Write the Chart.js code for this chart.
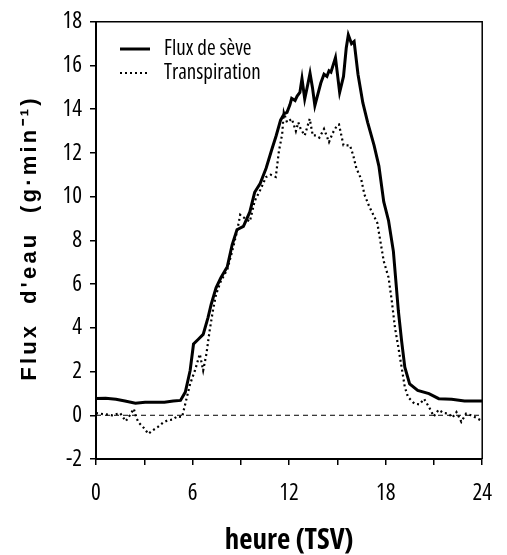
<!DOCTYPE html>
<html>
<head>
<meta charset="utf-8">
<script src="https://cdn.jsdelivr.net/npm/chart.js@4"></script>
<style>
  html, body { margin: 0; padding: 0; background: #fff; }
  #wrap { width: 507px; height: 555px; position: relative; }
</style>
</head>
<body>
<div id="wrap"><canvas id="c" width="507" height="555"></canvas></div>
<script>
// ---- data ----
const seriesLabels = ["Flux de sève", "Transpiration"];
const xTitle = "heure (TSV)";
const yTitle = "Flux  d'eau  (g·min⁻¹)";
const xTickValues = [0, 6, 12, 18, 24];
const yTickValues = [-2, 0, 2, 4, 6, 8, 10, 12, 14, 16, 18];

const sapHours = [0.0, 0.6, 1.24, 1.8, 2.45, 3.05, 3.6, 4.25, 4.8, 5.25, 5.55, 5.85, 6.06, 6.36, 6.66, 6.96, 7.16, 7.46, 7.76, 8.16, 8.46, 8.76, 9.16, 9.56, 9.86, 10.2, 10.57, 10.9, 11.2, 11.47, 11.7, 11.87, 12.05, 12.16, 12.37, 12.5, 12.67, 12.8, 12.97, 13.15, 13.3, 13.45, 13.6, 13.97, 14.17, 14.35, 14.48, 14.6, 14.88, 15.14, 15.38, 15.55, 15.68, 15.88, 16.04, 16.28, 16.58, 16.88, 17.28, 17.58, 17.88, 18.18, 18.48, 18.79, 18.99, 19.19, 19.49, 19.99, 20.69, 21.3, 22.1, 22.9, 23.9, 24.0];
const sapFlow = [0.77, 0.78, 0.73, 0.65, 0.55, 0.6, 0.6, 0.6, 0.65, 0.68, 1.06, 2.05, 3.26, 3.48, 3.7, 4.47, 5.08, 5.83, 6.29, 6.8, 7.8, 8.49, 8.64, 9.3, 10.2, 10.6, 11.3, 12.1, 12.8, 13.5, 13.8, 13.86, 14.2, 14.5, 14.4, 14.6, 14.77, 15.4, 14.47, 15.1, 15.65, 15.0, 14.17, 15.2, 15.6, 15.5, 15.76, 15.7, 16.36, 14.77, 15.5, 16.8, 17.4, 17.0, 17.1, 15.6, 14.3, 13.4, 12.35, 11.4, 9.77, 8.9, 7.5, 4.77, 3.4, 2.2, 1.44, 1.14, 0.99, 0.76, 0.73, 0.65, 0.65, 0.65];

const trHours = [0.0, 0.5, 1.0, 1.5, 1.85, 2.1, 2.35, 2.5, 2.65, 3.0, 3.25, 3.5, 3.85, 4.15, 4.45, 4.75, 5.05, 5.35, 5.55, 5.85, 6.15, 6.45, 6.66, 6.86, 7.06, 7.26, 7.46, 7.76, 8.16, 8.46, 8.76, 8.96, 9.26, 9.56, 9.86, 10.2, 10.57, 10.85, 11.17, 11.37, 11.57, 11.67, 11.87, 12.17, 12.42, 12.57, 12.72, 12.97, 13.28, 13.47, 13.67, 13.88, 14.17, 14.48, 14.7, 14.98, 15.1, 15.38, 15.78, 15.98, 16.18, 16.48, 16.68, 16.98, 17.48, 17.88, 18.18, 18.38, 18.58, 18.79, 18.99, 19.19, 19.39, 19.79, 20.1, 20.39, 20.69, 20.99, 21.29, 21.6, 21.9, 22.15, 22.4, 22.7, 23.0, 23.3, 23.6, 24.0];
const transpiration = [0.1, 0.05, 0.0, 0.1, -0.27, 0.0, 0.3, -0.1, -0.33, -0.6, -0.85, -0.7, -0.53, -0.35, -0.23, -0.2, -0.05, -0.08, 0.53, 1.44, 2.05, 2.8, 2.05, 2.8, 3.86, 4.77, 5.53, 6.14, 6.67, 7.5, 8.4, 9.17, 9.0, 8.86, 9.8, 10.3, 10.9, 11.0, 10.9, 12.1, 12.86, 13.86, 13.4, 13.56, 13.0, 13.4, 13.1, 12.8, 13.56, 12.8, 12.8, 12.7, 13.1, 12.5, 12.9, 13.26, 13.3, 12.35, 12.35, 11.9, 11.3, 10.8, 10.1, 9.55, 8.8, 7.05, 6.3, 5.23, 4.0, 3.1, 2.2, 1.29, 0.83, 0.53, 0.5, 0.75, 0.38, -0.05, 0.25, 0.1, 0.08, -0.1, 0.15, -0.3, 0.08, 0.0, -0.1, -0.27];

const zeroLineHours = [0, 24];
const zeroLineValues = [0, 0];

// ---- chart ----
const COND = "'Open Sans', 'Liberation Sans', sans-serif";
const toPts = (xs, ys) => xs.map((x, i) => ({ x: x, y: ys[i] }));

const framePlugin = {
  id: 'frame',
  afterDraw(chart) {
    const { ctx, chartArea: a } = chart;
    ctx.save();
    ctx.strokeStyle = '#000';
    ctx.lineWidth = 1.5;
    ctx.beginPath();
    ctx.moveTo(a.left, a.top); ctx.lineTo(a.right, a.top); ctx.lineTo(a.right, a.bottom);
    ctx.stroke();
    // legend (inside plot, top-left)
    const items = chart.data.datasets.filter(d => d.showInLegend);
    items.forEach((d, i) => {
      const y = 49 + i * 24;
      ctx.beginPath();
      ctx.setLineDash(d.borderDash || []);
      ctx.lineWidth = d.borderWidth;
      ctx.strokeStyle = d.borderColor;
      ctx.moveTo(120, y); ctx.lineTo(150, y);
      ctx.stroke();
      ctx.setLineDash([]);
      ctx.fillStyle = '#000';
      ctx.font = "condensed 21px " + COND;
      ctx.textBaseline = 'middle';
      ctx.textAlign = 'left';
      ctx.fillText(d.label, 164, y);
    });
    // y axis title with letter spacing
    ctx.translate(30, 238);
    ctx.rotate(-Math.PI / 2);
    ctx.font = "bold 22px 'Liberation Sans', Arial, sans-serif";
    try { ctx.letterSpacing = '3.2px'; } catch (e) {}
    ctx.textAlign = 'center';
    ctx.textBaseline = 'middle';
    ctx.fillStyle = '#000';
    ctx.fillText(yTitle, 0, 0);
    ctx.restore();
  }
};

new Chart(document.getElementById('c'), {
  type: 'line',
  data: {
    datasets: [
      {
        label: seriesLabels[0],
        showInLegend: true,
        data: toPts(sapHours, sapFlow),
        borderColor: '#000',
        borderWidth: 3,
        pointRadius: 0,
        tension: 0,
        fill: false
      },
      {
        label: seriesLabels[1],
        showInLegend: true,
        data: toPts(trHours, transpiration),
        borderColor: '#000',
        borderWidth: 2.2,
        borderDash: [2, 3],
        pointRadius: 0,
        tension: 0,
        fill: false
      },
      {
        label: 'zero',
        showInLegend: false,
        data: toPts(zeroLineHours, zeroLineValues),
        borderColor: '#000',
        borderWidth: 1,
        borderDash: [5, 4],
        pointRadius: 0,
        fill: false
      }
    ]
  },
  plugins: [framePlugin],
  options: {
    responsive: false,
    animation: false,
    events: [],
    layout: { padding: { top: 19, right: 12, left: 0, bottom: 0 } },
    plugins: { legend: { display: false }, tooltip: { enabled: false } },
    scales: {
      x: {
        type: 'linear',
        min: 0, max: 24,
        afterFit(s) { s.height = 96; },
        afterBuildTicks(s) { s.ticks = [0, 3, 6, 9, 12, 15, 18, 21, 24].map(v => ({ value: v })); },
        ticks: {
          autoSkip: false,
          maxRotation: 0,
          padding: 15,
          color: '#000',
          font: { family: COND, size: 23, weight: 'condensed' },
          callback: v => xTickValues.includes(v) ? String(v) : ''
        },
        grid: { drawOnChartArea: false, color: '#000', tickLength: 6, lineWidth: 1.5 },
        border: { color: '#000', width: 2 },
        title: {
          display: true,
          text: xTitle,
          color: '#000',
          font: { family: COND, size: 29, weight: 'bold condensed', lineHeight: 0.95 },
          padding: { top: 0, bottom: 0 }
        }
      },
      y: {
        type: 'linear',
        min: -2, max: 18,
        afterFit(s) { s.width = 96; },
        afterBuildTicks(s) { s.ticks = yTickValues.map(v => ({ value: v })); },
        ticks: {
          autoSkip: false,
          padding: 8,
          color: '#000',
          font: { family: COND, size: 23, weight: 'condensed' },
          callback: v => String(v)
        },
        grid: { drawOnChartArea: false, color: '#000', tickLength: 6, lineWidth: 1.5 },
        border: { color: '#000', width: 2 }
      }
    }
  }
});
</script>
</body>
</html>
